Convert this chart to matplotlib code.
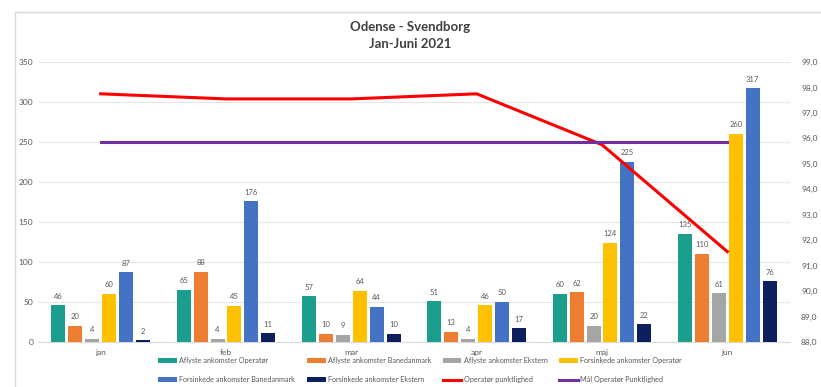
import matplotlib
matplotlib.use("Agg")
import matplotlib.pyplot as plt
import numpy as np
from matplotlib.ticker import FuncFormatter
from matplotlib.patches import Rectangle

plt.rcParams['font.family'] = ['Lato', 'DejaVu Sans']

months = ["jan", "feb", "mar", "apr", "maj", "jun"]
aflyste_operator = [46, 65, 57, 51, 60, 135]
aflyste_banedanmark = [20, 88, 10, 13, 62, 110]
aflyste_ekstern = [4, 4, 9, 4, 20, 61]
forsinkede_operator = [60, 45, 64, 46, 124, 260]
forsinkede_banedanmark = [87, 176, 44, 50, 225, 317]
forsinkede_ekstern = [2, 11, 10, 17, 22, 76]
operator_punktlighed = [97.75, 97.55, 97.55, 97.75, 95.75, 91.55]
maal_punktlighed = [95.85, 95.85, 95.85, 95.85, 95.85, 95.85]

bar_series = [
    ("Aflyste ankomster Operatør", aflyste_operator, "#1B9E8E"),
    ("Aflyste ankomster Banedanmark", aflyste_banedanmark, "#ED7D31"),
    ("Aflyste ankomster Ekstern", aflyste_ekstern, "#A5A5A5"),
    ("Forsinkede ankomster Operatør", forsinkede_operator, "#FFC000"),
    ("Forsinkede ankomster Banedanmark", forsinkede_banedanmark, "#4472C4"),
    ("Forsinkede ankomster Ekstern", forsinkede_ekstern, "#0D1F5C"),
]

fig = plt.figure(figsize=(8.21, 3.87), dpi=100)
fig.patches.append(Rectangle((15/821, -0.01), 1.0, 1 - 12/387 + 0.01, transform=fig.transFigure,
                             fill=False, edgecolor="#D9D9D9", linewidth=1.0))
ax = fig.add_axes([38/821, 1 - 342/387, (790 - 38)/821, (342 - 62)/387])
ax2 = ax.twinx()

x = np.arange(len(months))
slot = 0.135
width = 0.112
handles = []
for i, (name, vals, col) in enumerate(bar_series):
    pos = x + (i - 2.5) * slot
    b = ax.bar(pos, vals, width=width, color=col, label=name, zorder=3)
    handles.append(b)
    for p, v in zip(pos, vals):
        ax.text(p, v + 7, str(v), ha="center", va="bottom", fontsize=5.5, color="#595959", zorder=4)

ax.set_ylim(0, 350)
ax.set_yticks(range(0, 351, 50))
ax.set_xlim(-0.5, len(months) - 0.5)
ax.set_xticks(x)
ax.set_xticklabels(months)
ax.grid(axis="y", color="#E6E6E6", linewidth=0.8, zorder=0)
ax.set_axisbelow(True)
for s in ["top", "left", "right"]:
    ax.spines[s].set_visible(False)
ax.spines["bottom"].set_color("#D9D9D9")
ax.tick_params(axis="both", length=0, labelsize=6, colors="#595959")
ax.tick_params(axis="x", pad=5)

l1, = ax2.plot(x, operator_punktlighed, color="#FF0000", linewidth=2.2, label="Operatør punktlighed", zorder=5)
l2, = ax2.plot(x, maal_punktlighed, color="#7030A0", linewidth=2.2, label="Mål Operatør Punktlighed", zorder=5)
ax2.set_ylim(88, 99)
ax2.set_yticks(range(88, 100))
ax2.yaxis.set_major_formatter(FuncFormatter(lambda v, p: f"{v:.1f}".replace(".", ",")))
for s in ["top", "left", "right", "bottom"]:
    ax2.spines[s].set_visible(False)
ax2.tick_params(axis="y", length=0, labelsize=6, colors="#595959", pad=8)

fig.text(0.5, 1 - 27/387, "Odense - Svendborg", ha="center", va="center", fontsize=9.5,
         fontweight="bold", color="#404040")
fig.text(0.5, 1 - 44/387, "Jan-Juni 2021", ha="center", va="center", fontsize=9.5,
         fontweight="bold", color="#404040")

all_handles = handles + [l1, l2]
order = [0, 4, 1, 5, 2, 6, 3, 7]
hs = [all_handles[i] for i in order]
leg = fig.legend(hs, [h.get_label() for h in hs], loc="center",
                 bbox_to_anchor=(420/821, 1 - 370/387), ncol=4, frameon=False, fontsize=5.2,
                 handlelength=2.6, handleheight=0.6, columnspacing=1.6, labelspacing=1.7,
                 handletextpad=0.3, borderpad=0)
for t in leg.get_texts():
    t.set_color("#595959")

fig.savefig("out.png", dpi=100)
